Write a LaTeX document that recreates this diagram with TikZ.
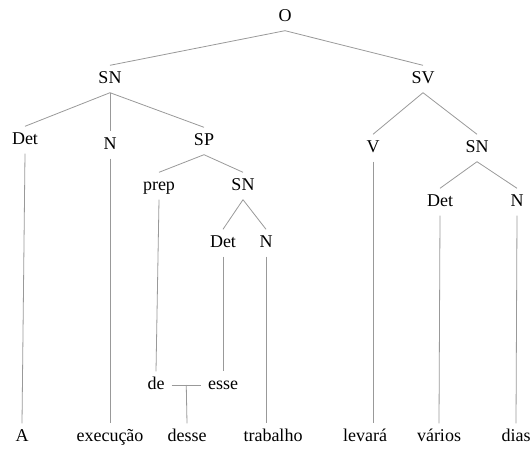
\documentclass[tikz,border=0pt]{standalone}
\usepackage{fontspec}
\setmainfont{Liberation Serif}
\usetikzlibrary{calc}
\begin{document}
\begin{tikzpicture}[x=1pt,y=-1pt,
  lbl/.style={font=\fontsize{18}{20}\selectfont, text height=12pt, text depth=3pt,
              inner ysep=6pt, inner xsep=7pt, anchor=center},
  br/.style={draw=black!40, line width=0.8pt}]
\useasboundingbox (0,0) rectangle (532,449);

% phrase labels
\node[lbl] (O)    at (285,17)  {O};
\node[lbl] (SN1)  at (110,79)  {SN};
\node[lbl] (SV)   at (423,79)  {SV};
\node[lbl] (Det1) at (25,140)  {Det};
\node[lbl] (N1)   at (110,145) {N};
\node[lbl] (SP)   at (204,141) {SP};
\node[lbl] (V)    at (373,148) {V};
\node[lbl] (SN3)  at (477,148) {SN};
\node[lbl] (prep) at (159,186) {prep};
\node[lbl] (SN2)  at (243,186) {SN};
\node[lbl] (Det3) at (440,202) {Det};
\node[lbl] (N3)   at (517,202) {N};
\node[lbl] (Det2) at (223,243) {Det};
\node[lbl] (N2)   at (266,243) {N};
\node[lbl] (de)   at (156,385) {de};
\node[lbl] (esse) at (223,385) {esse};

% words
\node[lbl] (A)     at (22,437)  {A};
\node[lbl] (exec)  at (110,437) {execução};
\node[lbl] (desse) at (187,437) {desse};
\node[lbl] (trab)  at (273,437) {trabalho};
\node[lbl] (lev)   at (365,437) {levará};
\node[lbl] (var)   at (439,437) {vários};
\node[lbl] (dias)  at (516,437) {dias};

% branches
\draw[br] (O.south) -- (SN1.north);
\draw[br] (O.south) -- (SV.north);
\draw[br] (SN1.south) -- (Det1.north);
\draw[br] (SN1.south) -- (N1.north);
\draw[br] (SN1.south) -- (SP.north);
\draw[br] (SV.south) -- (V.north);
\draw[br] (SV.south) -- (SN3.north);
\draw[br] (SP.south) -- (prep.north);
\draw[br] (SP.south) -- (SN2.north);
\draw[br] (SN2.south) -- (Det2.north);
\draw[br] (SN2.south) -- (N2.north);
\draw[br] (SN3.south) -- (Det3.north);
\draw[br] (SN3.south) -- (N3.north);

% vertical lines to the words
\draw[br] (Det1.south) -- (A.north);
\draw[br] (N1.south) -- (exec.north);
\draw[br] (prep.south) -- (de.north);
\draw[br] (Det2.south) -- (esse.north);
\draw[br] (N2.south) -- (N2.south |- trab.north);
\draw[br] (V.south) -- (V.south |- lev.north);
\draw[br] (Det3.south) -- (var.north);
\draw[br] (N3.south) -- (dias.north);

% contraction de + esse -> desse
\coordinate (mid) at ($(de.east)!0.5!(esse.west)$);
\draw[br] (de.east) -- (esse.west);
\draw[br] (mid) -- (desse.north);
\end{tikzpicture}
\end{document}
